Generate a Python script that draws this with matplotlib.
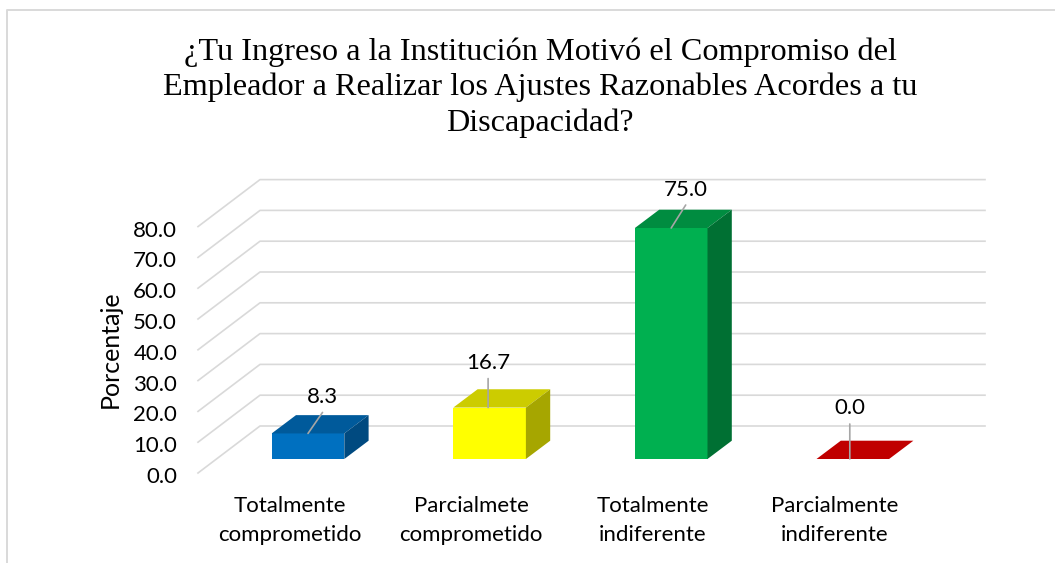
import matplotlib
matplotlib.use("Agg")
import matplotlib.pyplot as plt
from matplotlib.transforms import ScaledTranslation

categories = ["Totalmente\ncomprometido", "Parcialmete\ncomprometido",
              "Totalmente\nindiferente", "Parcialmente\nindiferente"]
values = [8.3, 16.7, 75.0, 0.0]
y_ticks = [0, 10, 20, 30, 40, 50, 60, 70, 80]

front_colors = ["#0070C0", "#FFFF00", "#00B050", "#C00000"]
top_colors = ["#005A9B", "#CCCC00", "#008C40", "#C00000"]
side_colors = ["#004A80", "#A6A600", "#007033", "#C00000"]

W, H = 1055, 563
plt.rcParams['font.family'] = ['Lato', 'DejaVu Sans']

fig = plt.figure(figsize=(W/100, H/100), dpi=100)

# axes box in pixels, floor front edge is y=0
left, right, bottom, top = 198, 985, 473, 180
ax = fig.add_axes([left/W, 1-bottom/H, (right-left)/W, (bottom-top)/H])
px_y = 3.08
px_x = 181.6
x0 = 289.5
ax.set_xlim((left-x0)/px_x, (right-x0)/px_x)
ax.set_ylim(0, (bottom-top)/px_y)
ax.patch.set_visible(False)

x = list(range(len(categories)))
bar_w = 72.6/px_x

# depth of the wall and how far the bars sit back on the floor
wall_dx, wall_dy = 62/px_x, 47/px_y
bar_dx, bar_dy = 18.5/px_x, 14/px_y
deep_dx, deep_dy = 24.3/px_x, 18.3/px_y

xl = ax.get_xlim()
for t in y_ticks:
    ax.plot([xl[0], xl[0]+wall_dx, xl[1]], [t, t+wall_dy, t+wall_dy],
            color="#D9D9D9", lw=1.2, zorder=1, clip_on=False)

for i, v in enumerate(values):
    xc = x[i] + bar_dx
    a, b = xc-bar_w/2, xc+bar_w/2
    vt = v + bar_dy
    ax.bar(xc, v, bar_w, bottom=bar_dy, color=front_colors[i], zorder=3)
    ax.fill([a, b, b+deep_dx, a+deep_dx], [vt, vt, vt+deep_dy, vt+deep_dy],
            color=top_colors[i], lw=0, zorder=3)
    if v > 0:
        ax.fill([b, b+deep_dx, b+deep_dx, b], [bar_dy, bar_dy+deep_dy, vt+deep_dy, vt],
                color=side_colors[i], lw=0, zorder=3)

# leader line and label offsets from the bar front centre, pixels
base_dx = [0, -1.5, 0, -3]
label_dx = [14.5, -1.5, 14.5, -3]
line_dy = [21, 29, 23, 35]
text_dy = [36, 45, 38, 51]
for i, v in enumerate(values):
    xc = x[i] + bar_dx
    vt = v + bar_dy
    ax.annotate("", xy=(xc + base_dx[i]/px_x, vt), xytext=(label_dx[i]-base_dx[i], line_dy[i]),
                textcoords="offset pixels",
                arrowprops=dict(arrowstyle="-", color="#A6A6A6", lw=1.2, shrinkA=0, shrinkB=0), zorder=4)
    ax.annotate(f"{v:.1f}", xy=(xc, vt), xytext=(label_dx[i], text_dy[i]), textcoords="offset pixels",
                ha="center", va="center", fontsize=16, color="black", zorder=5)

ax.set_xticks(x)
ax.set_xticklabels(categories, fontsize=16, linespacing=1.55)
ax.set_yticks(y_ticks)
ax.set_yticklabels([f"{t:.1f}" for t in y_ticks], fontsize=16)
ax.tick_params(axis="both", length=0)
ax.tick_params(axis="y", pad=15)
ax.tick_params(axis="x", pad=16.5)
for s in ax.spines.values():
    s.set_visible(False)
# y labels sit a little under their line
shift = ScaledTranslation(0, -2/100, fig.dpi_scale_trans)
for lab in ax.get_yticklabels():
    lab.set_transform(lab.get_transform() + shift)

fig.text(110/W, 1-349/H, "Porcentaje", rotation=90, ha="center", va="center", fontsize=18)

fig.text(540/W, 1-87.5/H,
         "¿Tu Ingreso a la Institución Motivó el Compromiso del\n"
         "Empleador a Realizar los Ajustes Razonables Acordes a tu\n"
         "Discapacidad?",
         ha="center", va="center", family=["Liberation Serif"], fontsize=23.2, linespacing=1.26)

# outer frame of the chart area
fig.add_artist(plt.Line2D([7/W, 7/W, W/W], [0, 1-10/H, 1-10/H], color="#D9D9D9", lw=1.4))

fig.savefig("out.png", dpi=100)
